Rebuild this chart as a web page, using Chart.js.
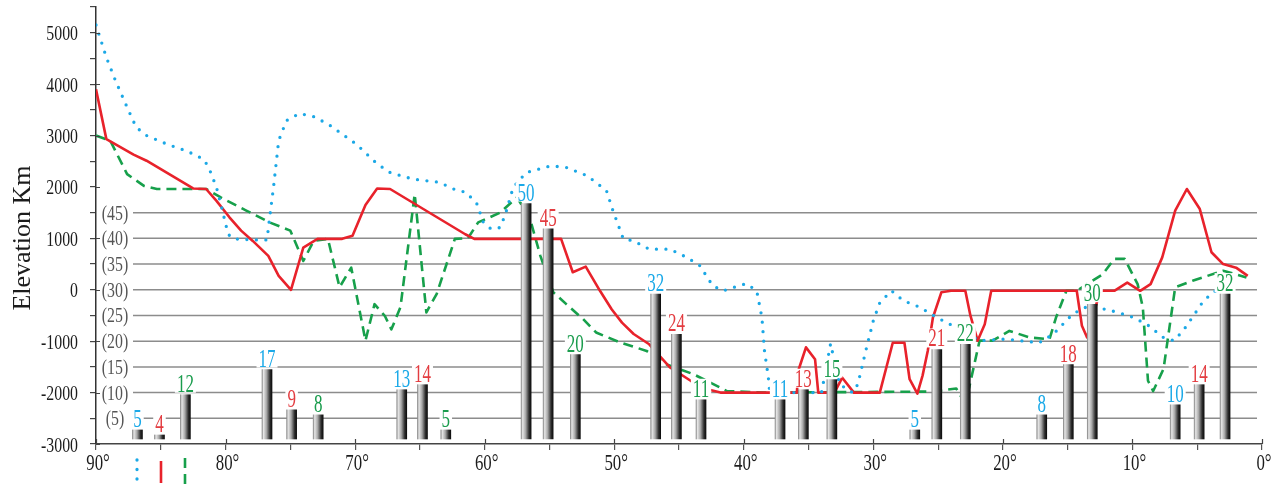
<!DOCTYPE html>
<html>
<head>
<meta charset="utf-8">
<title>Elevation profiles</title>
<script src="https://cdn.jsdelivr.net/npm/chart.js@4/dist/chart.umd.min.js"></script>
<style>
  html, body { margin: 0; padding: 0; background: #fff; }
  canvas { display: block; }
</style>
</head>
<body>
<canvas id="profile" width="1276" height="485"></canvas>
<script>
// ---- Elevation profiles along latitude (degrees) ----
const blueDeg = [90, 89.2, 88.5, 87.6, 86.9, 86.1, 84.5, 83.0, 81.7, 81.3, 80.7, 80.3, 79.8, 79.4, 77.9, 76.8,
  76.6, 76.3, 75.9, 75.3, 74.3, 73.1, 71.9, 69.9, 68.3, 67.3, 65.5, 63.5, 62.4, 61.4, 60.6, 60.1, 59.5, 58.8,
  58.4, 57.8, 56.8, 54.9, 53.7, 52.1, 50.6, 50.1, 49.3, 48.5, 47.3, 45.7, 44.4, 43.4, 42.4, 41.6, 40.6, 39.8,
  39.0, 38.6, 38.4, 38.1, 38.0, 34.0, 33.3, 32.6, 31.6, 31.2, 30.5, 30.0, 29.5, 28.6, 27.7, 26.4, 25.1, 23.1,
  21.8, 19.8, 17.2, 16.1, 14.6, 13.6, 12.0, 10.2, 8.9, 7.6, 6.8, 6.1, 5.3, 4.5, 3.5, 2.0];
const blueElev = [5150, 4520, 4070, 3550, 3160, 3000, 2830, 2700, 2540, 2380, 1990, 1600, 1080, 990, 970, 970,
  1400, 1990, 2900, 3290, 3430, 3360, 3190, 2830, 2450, 2280, 2150, 2090, 1960, 1890, 1670, 1310, 1180, 1210,
  1470, 1990, 2280, 2410, 2380, 2220, 1930, 1540, 990, 950, 790, 790, 630, 470, 80, -20, 60, 120,
  -20, -540, -1190, -1710, -2000, -2000, -1050, -1840, -2000, -1840, -1100, -600, -250, -20, -210, -340, -540, -800,
  -990, -960, -1030, -860, -470, -340, -380, -510, -670, -930, -990, -800, -510, -210, 0, 200];

const redDeg = [90, 89.2, 87.1, 86.1, 82.5, 81.5, 80.7, 79.7, 78.8, 77.9, 76.7, 75.9, 74.95, 74.0, 72.9, 71.0,
  70.2, 69.2, 68.3, 67.3, 61.5, 60.8, 54.1, 53.2, 52.2, 51.1, 50.2, 49.4, 48.5, 47.3, 45.7, 44.1, 42.9, 41.8,
  35.9, 35.8, 35.2, 34.5, 34.25, 33.0, 32.4, 31.5, 29.5, 28.5, 27.6, 27.2, 26.6, 26.2, 25.8, 25.4, 24.75, 24.0,
  22.9, 22.5, 21.95, 21.4, 20.9, 14.3, 13.9, 13.5, 12.5, 11.4, 10.4, 9.4, 8.6, 7.7, 6.7, 5.8, 4.8, 3.9,
  3.0, 2.0, 1.1];
const redElev = [3900, 2930, 2630, 2510, 1970, 1960, 1730, 1410, 1150, 950, 660, 270, 0, 820, 990, 990,
  1050, 1650, 1970, 1960, 1080, 990, 990, 340, 450, -20, -380, -640, -860, -1060, -1510, -1770, -1930, -2000,
  -2000, -1580, -1120, -1350, -2000, -2000, -1710, -2000, -2000, -1030, -1030, -1740, -2020, -1670, -1190, -540, -50, -20,
  -20, -510, -990, -670, -20, -20, -700, -930, -20, -20, 140, -20, 110, 630, 1540, 1960, 1570, 730,
  500, 430, 270];

const greenDeg = [90, 88.9, 87.6, 86.3, 85.3, 81.5, 80.4, 78.4, 76.6, 75.0, 74.0, 73.2, 72.1, 71.2, 70.3, 69.2,
  68.5, 67.7, 67.2, 66.5, 65.4, 64.5, 63.7, 62.3, 61.3, 60.5, 58.8, 57.5, 56.5, 55.7, 54.7, 53.7, 52.4, 51.4,
  49.6, 47.5, 46.0, 43.9, 41.3, 38.3, 25.4, 23.6, 23.0, 22.6, 21.8, 20.8, 20.1, 19.5, 17.9, 16.4, 15.9, 15.1,
  14.3, 12.3, 11.4, 10.6, 9.6, 9.2, 8.8, 8.4, 7.6, 6.7, 5.3, 3.0, 1.2];
const greenElev = [3000, 2900, 2250, 2020, 1960, 1960, 1800, 1540, 1310, 1150, 560, 950, 990, 50, 430, -990,
  -280, -510, -770, -340, 1860, -440, -80, 990, 1000, 1310, 1500, 1800, 1380, 660, -50, -280, -570, -830,
  -1020, -1190, -1450, -1640, -1970, -2000, -1980, -1920, -2170, -1900, -990, -990, -890, -800, -930, -960, -540, -20,
  -20, 300, 600, 600, 110, -340, -1770, -1970, -1540, 50, 180, 370, 240];

// ---- Counts plotted as columns (one set per track) ----
const barBlueDeg = [86.8, 76.8, 66.4, 56.8, 46.8, 37.2, 26.8, 17.0, 6.7];
const barBlueVal = [5, 17, 13, 50, 32, 11, 5, 8, 10];
const barRedDeg = [85.1, 74.9, 64.8, 55.1, 45.2, 35.4, 25.1, 14.95, 4.85];
const barRedVal = [4, 9, 14, 45, 24, 13, 21, 18, 14];
const barGreenDeg = [83.1, 72.85, 63.0, 53.0, 43.3, 33.2, 22.9, 13.1, 2.85];
const barGreenVal = [12, 8, 5, 20, 11, 15, 22, 30, 32];

// ---- Axis ticks and the bracketed reference levels ----
const yTickValues = [5000, 4000, 3000, 2000, 1000, 0, -1000, -2000, -3000];
const xTickDegrees = [90, 80, 70, 60, 50, 40, 30, 20, 10, 0];
const refLevels = [1500, 1000, 500, 0, -500, -1000, -1500, -2000, -2500];
const refLabels = ['(45)', '(40)', '(35)', '(30)', '(25)', '(20)', '(15)', '(10)', '(5)'];

const BLUE = '#1ba8e6', RED = '#e8222b', GREEN = '#17a04b';
const LABEL_BLUE = '#1aa9e8', LABEL_RED = '#e33c40', LABEL_GREEN = '#1a9c4d';
const SERIF = '"Liberation Serif", "Times New Roman", serif';
const INK = '#1c1c1c';

// column scale: value 3.2 sits just above the axis, about 5 px per unit
const BAR_BASE = 3.2, BAR_MIN = 2.207, BAR_MAX = 89.09;

const pts = (xs, ys) => xs.map((x, i) => ({ x, y: ys[i] }));

// Serif text squeezed horizontally (narrow Times-like look)
function squeezedText(ctx, text, x, y, size, squeeze, color, align, baseline) {
  ctx.save();
  ctx.font = size + 'px ' + SERIF;
  ctx.textAlign = align;
  ctx.textBaseline = baseline;
  ctx.fillStyle = color;
  ctx.translate(x, y);
  ctx.scale(squeeze, 1);
  ctx.fillText(text, 0, 0);
  ctx.restore();
}

// Shaded cylinder look for each column
function columnFill(c) {
  const chart = c.chart;
  if (c.type !== 'data' || !chart.chartArea || !c.raw) return '#777';
  const cx = chart.scales.x.getPixelForValue(c.raw.x);
  const g = chart.ctx.createLinearGradient(cx - 5, 0, cx + 5, 0);
  g.addColorStop(0, '#8a8a8a');
  g.addColorStop(0.15, '#e6e6e6');
  g.addColorStop(0.45, '#a8a8a8');
  g.addColorStop(0.8, '#2c2c2c');
  g.addColorStop(1, '#0d0d0d');
  return g;
}

function columnSet(deg, val, labelColor) {
  return {
    type: 'bar', data: pts(deg, val), xAxisID: 'x', yAxisID: 'yb',
    backgroundColor: columnFill, borderWidth: 0, barThickness: 10,
    grouped: false, base: BAR_BASE, order: 0, labelColor
  };
}

function profileSet(deg, elev, color, width, dash) {
  return {
    type: 'line', data: pts(deg, elev), xAxisID: 'x', yAxisID: 'y',
    borderColor: color, borderWidth: width, borderDash: dash,
    borderCapStyle: dash.length && dash[0] === 0 ? 'round' : 'butt',
    borderJoinStyle: 'round', pointRadius: 0, fill: false, tension: 0, order: 1
  };
}

// Bracketed reference lines behind the data
const refLinesPlugin = {
  id: 'refLines',
  beforeDatasetsDraw(chart) {
    const { ctx, chartArea } = chart;
    const y = chart.scales.y;
    ctx.save();
    ctx.strokeStyle = '#8c8c8c';
    ctx.lineWidth = 1.5;
    refLevels.forEach((lv, i) => {
      const py = y.getPixelForValue(lv);
      ctx.beginPath();
      ctx.moveTo(chartArea.left + 37, py);
      ctx.lineTo(chartArea.right - 5, py);
      ctx.stroke();
      squeezedText(ctx, refLabels[i], chartArea.left + 19, py + 7, 22, 0.72, '#555', 'center', 'alphabetic');
    });
    ctx.restore();
  }
};

// Value labels on the columns, on a white patch
const columnLabelsPlugin = {
  id: 'columnLabels',
  afterDatasetsDraw(chart) {
    const ctx = chart.ctx;
    chart.data.datasets.forEach((ds, di) => {
      if (ds.type !== 'bar') return;
      const meta = chart.getDatasetMeta(di);
      meta.data.forEach((el, i) => {
        const text = String(ds.data[i].y);
        ctx.save();
        ctx.font = '25px ' + SERIF;
        const w = ctx.measureText(text).width * 0.68;
        ctx.restore();
        const bx = el.x, by = el.y - 3;
        ctx.fillStyle = '#fff';
        ctx.fillRect(bx - w / 2 - 2, by - 18, w + 4, 19);
        squeezedText(ctx, text, bx, by, 25, 0.68, ds.labelColor, 'center', 'alphabetic');
      });
    });
  }
};

// Axis text, crossing major ticks, axis title and the line samples under the axis
const axisTextPlugin = {
  id: 'axisText',
  afterDraw(chart) {
    const { ctx, chartArea } = chart;
    const x = chart.scales.x, y = chart.scales.y;

    ctx.save();
    ctx.strokeStyle = '#444';
    ctx.lineWidth = 1.2;
    ctx.beginPath();
    xTickDegrees.forEach(d => {
      const px = Math.round(x.getPixelForValue(d)) + 0.5;
      ctx.moveTo(px, chartArea.bottom - 5);
      ctx.lineTo(px, chartArea.bottom);
    });
    yTickValues.forEach(v => {
      const py = Math.round(y.getPixelForValue(v)) + 0.5;
      ctx.moveTo(chartArea.left, py);
      ctx.lineTo(chartArea.left + 4, py);
    });
    ctx.stroke();
    ctx.restore();

    yTickValues.forEach(v => {
      squeezedText(ctx, String(v), 78, y.getPixelForValue(v) + 7.5, 22, 0.72, INK, 'right', 'alphabetic');
    });
    xTickDegrees.forEach(d => {
      squeezedText(ctx, d + '\u00b0', x.getPixelForValue(d) + 2, 470, 24, 0.7, INK, 'center', 'alphabetic');
    });
    ctx.save();
    ctx.translate(30, 238);
    ctx.rotate(-Math.PI / 2);
    ctx.font = '26px ' + SERIF;
    ctx.fillStyle = INK;
    ctx.textAlign = 'center';
    ctx.textBaseline = 'alphabetic';
    ctx.fillText('Elevation Km', 0, 0);
    ctx.restore();

    // short samples of the three line styles
    const samples = [[0, 137, 460, 482], [1, 161, 461, 483], [2, 185, 458, 486]];
    const lineSets = chart.data.datasets.filter(d => d.type === 'line');
    samples.forEach(([k, sx, y0, y1]) => {
      const ds = lineSets[k];
      ctx.save();
      ctx.strokeStyle = ds.borderColor;
      ctx.lineWidth = ds.borderWidth;
      ctx.setLineDash(ds.borderDash);
      ctx.lineCap = ds.borderCapStyle;
      ctx.beginPath();
      ctx.moveTo(sx, y0);
      ctx.lineTo(sx, y1);
      ctx.stroke();
      ctx.restore();
    });
  }
};

const whiteBg = {
  id: 'whiteBg',
  beforeDraw(chart) {
    const { ctx, width, height } = chart;
    ctx.save();
    ctx.fillStyle = '#fff';
    ctx.fillRect(0, 0, width, height);
    ctx.restore();
  }
};

new Chart(document.getElementById('profile'), {
  type: 'bar',
  data: {
    datasets: [
      profileSet(blueDeg, blueElev, BLUE, 3.3, [0, 9.5]),
      profileSet(redDeg, redElev, RED, 2.6, []),
      profileSet(greenDeg, greenElev, GREEN, 2.6, [10, 6]),
      columnSet(barBlueDeg, barBlueVal, LABEL_BLUE),
      columnSet(barRedDeg, barRedVal, LABEL_RED),
      columnSet(barGreenDeg, barGreenVal, LABEL_GREEN)
    ]
  },
  options: {
    responsive: false,
    animation: false,
    devicePixelRatio: 1,
    layout: { padding: { top: 7, right: 14, left: 0, bottom: 0 } },
    plugins: { legend: { display: false }, tooltip: { enabled: false } },
    scales: {
      x: {
        type: 'linear', min: 0, max: 90, reverse: true, offset: false,
        ticks: { stepSize: 5, display: false },
        grid: { drawOnChartArea: false, drawTicks: true, tickLength: 6, color: '#555', lineWidth: 1.2, offset: false },
        border: { color: '#444', width: 1.5 },
        afterFit: s => { s.height = 41; }
      },
      y: {
        type: 'linear', position: 'left', min: -3000, max: 5500,
        ticks: { stepSize: 500, display: false },
        grid: { drawOnChartArea: false, drawTicks: true, tickLength: 6, color: '#444', lineWidth: 1.2 },
        border: { color: '#333', width: 1.5 },
        afterFit: s => { s.width = 96; }
      },
      yb: { type: 'linear', display: false, min: BAR_MIN, max: BAR_MAX }
    }
  },
  plugins: [whiteBg, refLinesPlugin, columnLabelsPlugin, axisTextPlugin]
});
</script>
</body>
</html>
